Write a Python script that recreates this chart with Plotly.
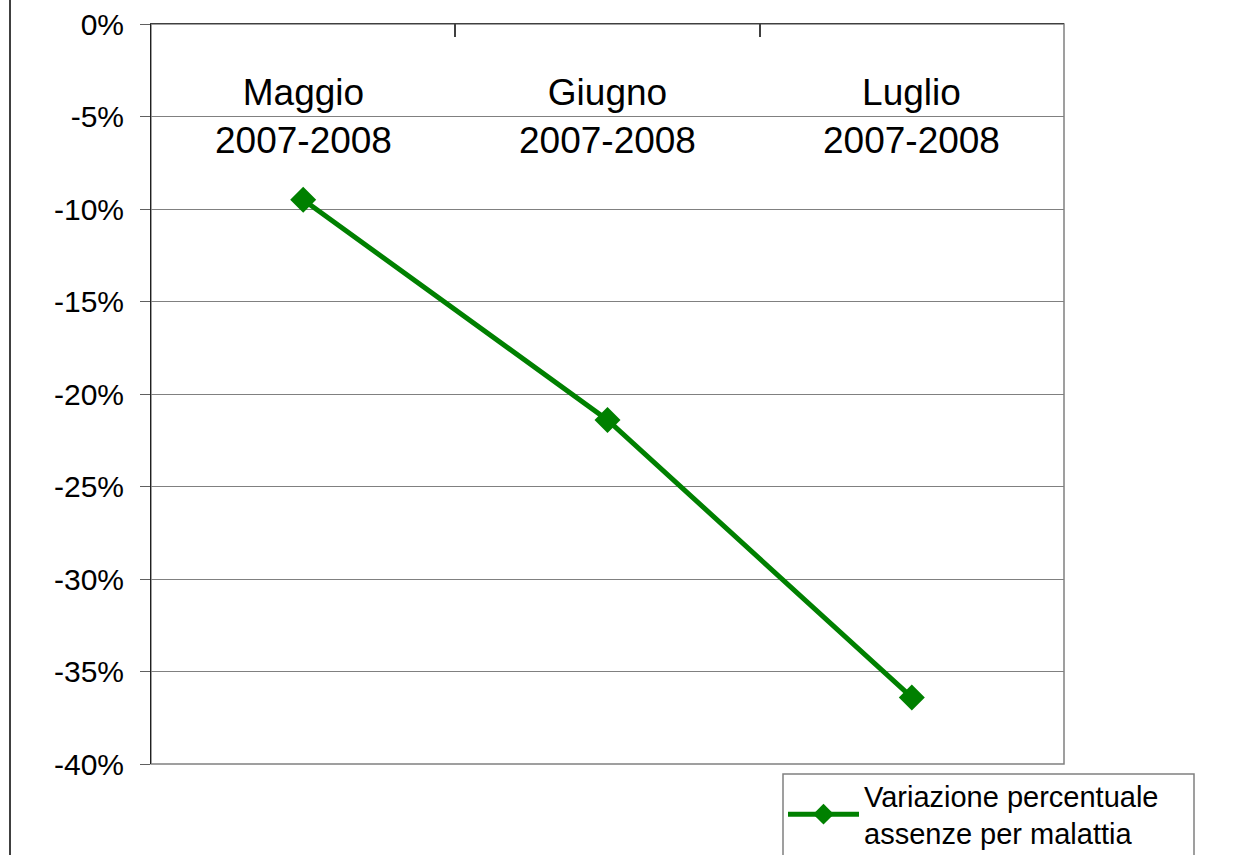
import plotly.graph_objects as go

categories = ["Maggio", "Giugno", "Luglio"]
category_labels = ["Maggio<br>2007-2008", "Giugno<br>2007-2008", "Luglio<br>2007-2008"]
values = [-9.5, -21.4, -36.4]
series_name = "Variazione percentuale<br>assenze per malattia"
y_tickvals = [0, -5, -10, -15, -20, -25, -30, -35, -40]
y_ticktext = ["0%", "-5%", "-10%", "-15%", "-20%", "-25%", "-30%", "-35%", "-40%"]

W, H = 1258, 855
L, R, T, B = 151, 1064, 24, 764


def px_x(p):
    return (p - L) / (R - L)


def px_y(p):
    return (B - p) / (B - T)


fig = go.Figure()
fig.add_trace(go.Scatter(
    x=categories, y=values, name=series_name, mode="lines+markers",
    line=dict(color="#008000", width=5),
    marker=dict(symbol="diamond", size=20, color="#008000"),
    showlegend=True,
))

font = "Liberation Sans, Arial, sans-serif"

annotations = [
    dict(x=c, y=px_y(70), xref="x", yref="paper", text=lab,
         showarrow=False, xanchor="center", yanchor="top", align="center",
         font=dict(size=37, family=font, color="black"))
    for c, lab in zip(categories, category_labels)
]

fig.update_layout(
    width=W, height=H,
    margin=dict(l=L, r=W - R, t=T, b=H - B, pad=0, autoexpand=False),
    paper_bgcolor="white", plot_bgcolor="white",
    font=dict(family=font, color="black"),
    showlegend=True,
    legend=dict(
        x=px_x(783), y=px_y(770),
        xanchor="left", yanchor="top",
        borderwidth=0, bgcolor="rgba(0,0,0,0)",
        font=dict(size=29, family=font, color="black"),
        itemwidth=71, tracegroupgap=0,
    ),
    xaxis=dict(
        type="category", range=[-0.5, 2.5], side="top",
        showline=True, linecolor="#404040", linewidth=1,
        ticks="inside", ticklen=13, tickcolor="#404040", tickwidth=2,
        tickson="boundaries", showgrid=False, zeroline=False,
        showticklabels=False,
    ),
    yaxis=dict(
        range=[-40, 0], tickvals=y_tickvals, ticktext=y_ticktext,
        showline=True, linecolor="#202020", linewidth=1,
        ticks="outside", ticklen=10, tickcolor="#606060",
        showgrid=True, gridcolor="#808080", gridwidth=1, zeroline=False,
        ticklabelstandoff=10,
        tickfont=dict(size=30, family=font, color="black"),
    ),
    annotations=annotations,
    shapes=[
        dict(type="rect", xref="paper", yref="paper", x0=0, x1=1, y0=0, y1=1,
             line=dict(color="#808080", width=1.5), layer="below"),
        dict(type="line", xref="paper", yref="paper",
             x0=px_x(10), x1=px_x(10), y0=-1, y1=2,
             line=dict(color="black", width=1.5)),
        dict(type="rect", xref="paper", yref="paper",
             x0=px_x(783), x1=px_x(1194), y0=px_y(774), y1=px_y(880),
             line=dict(color="#808080", width=1.5), fillcolor="rgba(0,0,0,0)"),
    ],
)

fig.write_html("out.html", config={"displayModeBar": False},
               post_script="document.body.style.margin='0';")
